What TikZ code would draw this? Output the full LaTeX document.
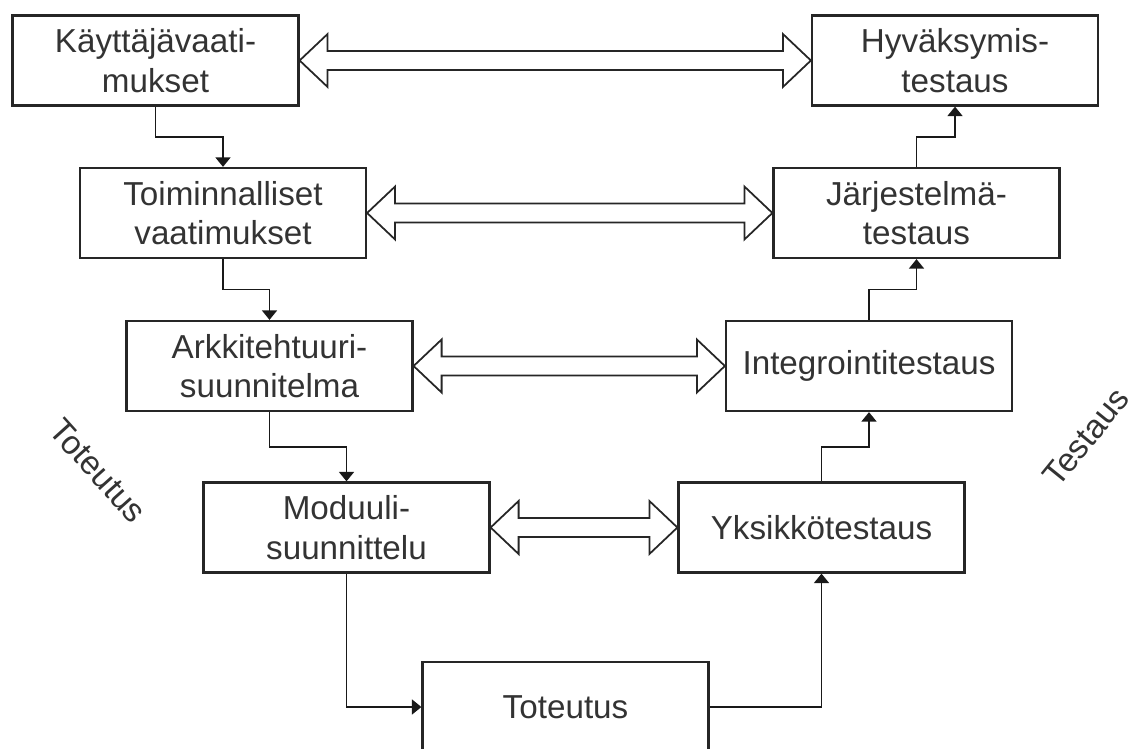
\documentclass[tikz,border=0pt]{standalone}
\usepackage{fontspec}
\setmainfont{Liberation Sans}
\usetikzlibrary{positioning,calc,arrows.meta}

\begin{document}
\begin{tikzpicture}[x=0.02cm, y=-0.02cm]
	% Configurable lengths (picture units)
	\def\headLen{28}
	\def\headHalf{26.5}
	\def\shaftHalf{9.5}

	% Styles
	\tikzstyle{stage}=[draw=black!85, line width=1.3pt, rectangle, minimum width=5.72cm, minimum height=1.8cm, inner sep=0pt, align=center, text=black!80, font={\fontsize{18.9}{22.4}\selectfont}]
	\tikzstyle{flow}=[-{Triangle[width=0.3cm, length=0.19cm]}, draw=black!90, line width=1pt]
	\tikzstyle{pair}=[draw=black!85, fill=white, line width=1pt, line join=miter]
	\tikzstyle{phase}=[text=black!80, font={\fontsize{18.9}{22.4}\selectfont}]

	% Wide hollow double arrow between two stages on one row
	\def\dualArrow#1#2{%
		\draw[pair] (#1.east) -- ++(\headLen,-\headHalf) -- ++(0,\headHalf-\shaftHalf)
			-- ($(#2.west)+(-\headLen,-\shaftHalf)$) -- ++(0,-\headHalf+\shaftHalf)
			-- (#2.west) -- ++(-\headLen,\headHalf) -- ++(0,-\headHalf+\shaftHalf)
			-- ($(#1.east)+(\headLen,\shaftHalf)$) -- ++(0,\headHalf-\shaftHalf) -- cycle;}

	\useasboundingbox (0,0) rectangle (1131,749);
	\clip (0,0) rectangle (1131,749);

	% Left side
	\node[stage] (kayttaja) at (155.5,60.5) {Käyttäjävaati-\\mukset};
	\node[stage] (toiminnalliset) at (223,213) {Toiminnalliset\\vaatimukset};
	\node[stage] (arkkitehtuuri) at (269.5,366) {Arkkitehtuuri-\\suunnitelma};
	\node[stage] (moduuli) at (346.5,527.5) {Moduuli-\\suunnittelu};

	% Bottom
	\node[stage] (toteutus) at (565.5,707) {Toteutus};

	% Right side
	\node[stage] (yksikko) at (821.5,527.5) {Yksikkötestaus};
	\node[stage] (integrointi) at (869,366) {Integrointitestaus};
	\node[stage] (jarjestelma) at (916.5,213) {Järjestelmä-\\testaus};
	\node[stage] (hyvaksymis) at (955,60.5) {Hyväksymis-\\testaus};

	% Phase labels
	\node[phase, rotate=-48] (totlabel) at (98,471) {Toteutus};
	\node[phase, rotate=51] (testlabel) at (1086,437) {Testaus};

	% Down the left side
	\draw[flow] (kayttaja.south) |- ($(kayttaja.south)!0.5!(toiminnalliset.north)$) -| (toiminnalliset.north);
	\draw[flow] (toiminnalliset.south) |- ($(toiminnalliset.south)!0.5!(arkkitehtuuri.north)$) -| (arkkitehtuuri.north);
	\draw[flow] (arkkitehtuuri.south) |- ($(arkkitehtuuri.south)!0.5!(moduuli.north)$) -| (moduuli.north);
	\draw[flow] (moduuli.south) |- (toteutus.west);

	% Up the right side
	\draw[flow] (toteutus.east) -| (yksikko.south);
	\draw[flow] (yksikko.north) |- ($(yksikko.north)!0.5!(integrointi.south)$) -| (integrointi.south);
	\draw[flow] (integrointi.north) |- ($(integrointi.north)!0.5!(jarjestelma.south)$) -| (jarjestelma.south);
	\draw[flow] (jarjestelma.north) |- ($(jarjestelma.north)!0.5!(hyvaksymis.south)$) -| (hyvaksymis.south);

	% Correspondence
	\dualArrow{kayttaja}{hyvaksymis}
	\dualArrow{toiminnalliset}{jarjestelma}
	\dualArrow{arkkitehtuuri}{integrointi}
	\dualArrow{moduuli}{yksikko}
\end{tikzpicture}
\end{document}
